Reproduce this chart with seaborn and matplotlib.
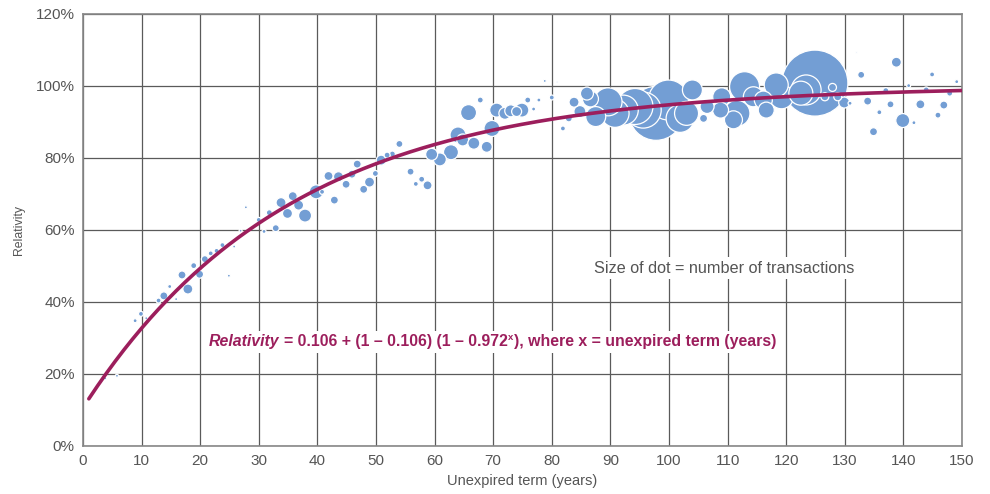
import numpy as np
import pandas as pd
import matplotlib
matplotlib.use("Agg")
import matplotlib.pyplot as plt
import seaborn as sns

# unexpired term (years), relativity (%), number of transactions (dot size)
term = [3.8, 5.8, 8.9, 9.9, 10.8, 12.9, 13.8, 14.8, 15.9, 16.9, 17.9, 18.9, 19.9, 20.8, 21.8,
        22.8, 23.8, 24.9, 25.8, 26.9, 27.8, 30.0, 30.9, 31.8, 32.9, 33.8, 34.9, 35.8, 36.8, 37.9,
        39.8, 40.8, 41.9, 42.9, 43.6, 44.9, 45.9, 46.8, 47.9, 48.9, 49.9, 50.9, 51.9, 52.8, 54.0,
        55.9, 56.8, 57.8, 58.8, 59.5, 60.9, 62.8, 64.0, 64.8, 65.8, 66.7, 67.8, 68.9, 69.8, 70.6,
        72.0, 73.0, 74.0, 74.9, 75.9, 76.9, 77.8, 78.8, 80.0, 80.9, 81.9, 82.9, 83.8, 84.8, 86.0,
        86.6, 87.5, 89.6, 90.8, 92.2, 94.2, 95.6, 97.8, 99.9, 101.9, 103.0, 104.0, 105.9, 106.5, 109.0,
        108.8, 111.6, 111.0, 112.9, 114.4, 116.1, 116.6, 118.3, 119.2, 124.9, 123.4, 122.5, 126.6, 127.9, 128.8,
        129.9, 130.9, 132.0, 132.8, 133.9, 134.9, 135.9, 137.0, 137.8, 138.8, 139.9, 140.9, 141.8, 142.9, 143.9,
        144.9, 145.9, 146.9, 147.9, 149.1]
relativity = [18.8, 19.5, 34.8, 36.7, 35.5, 40.4, 41.7, 44.3, 40.8, 47.5, 43.6, 50.1, 47.7, 51.9, 53.5,
              54.2, 55.8, 47.3, 55.4, 59.8, 66.3, 62.8, 59.6, 64.8, 60.5, 67.6, 64.6, 69.4, 66.9, 64.0,
              70.6, 70.6, 75.0, 68.3, 74.8, 72.7, 75.5, 78.3, 71.3, 73.3, 75.7, 79.4, 80.8, 81.1, 83.9,
              76.2, 72.8, 74.1, 72.4, 81.0, 79.6, 81.6, 86.4, 85.0, 92.6, 84.1, 96.1, 83.1, 88.2, 93.3,
              92.4, 93.1, 92.9, 93.3, 96.1, 93.6, 96.1, 101.4, 96.8, 101.1, 88.2, 91.0, 95.5, 92.9, 97.9,
              96.4, 91.5, 95.6, 92.4, 93.3, 94.3, 93.3, 92.4, 96.1, 91.0, 92.4, 98.9, 91.0, 94.3, 97.0,
              93.3, 92.4, 90.6, 99.8, 97.0, 96.1, 93.3, 100.3, 97.0, 100.8, 98.9, 98.0, 97.0, 99.6, 97.0,
              95.4, 95.2, 109.3, 103.1, 95.8, 87.3, 92.7, 98.7, 94.9, 106.6, 90.4, 100.1, 89.8, 94.9, 98.9,
              103.2, 91.9, 94.7, 98.0, 101.2]
transactions = [9, 9, 16, 25, 9, 25, 64, 16, 9, 64, 100, 36, 64, 49, 25,
                25, 25, 9, 9, 9, 9, 25, 16, 36, 49, 100, 100, 81, 100, 169,
                196, 25, 81, 64, 100, 64, 64, 64, 64, 100, 36, 100, 36, 36, 49,
                49, 25, 36, 81, 144, 169, 225, 256, 144, 256, 144, 36, 121, 256, 196,
                144, 144, 100, 196, 36, 16, 16, 9, 25, 4, 25, 49, 100, 144, 169,
                256, 400, 784, 784, 900, 1296, 1296, 2916, 1600, 784, 576, 400, 64, 196, 324,
                256, 676, 324, 900, 400, 324, 256, 576, 576, 4356, 900, 576, 64, 64, 64,
                121, 16, 3, 49, 64, 64, 25, 36, 49, 100, 196, 16, 16, 81, 36,
                25, 36, 64, 36, 16]

# fitted curve: Relativity = a + (1 - a)(1 - b^x)
fit_a = 0.106
fit_b = 0.972
fit_start = 1

df = pd.DataFrame({"term": term, "relativity": relativity, "transactions": transactions})
df = df.sort_values("transactions", ascending=False)

curve_x = np.linspace(fit_start, 150, 300)
curve_y = 100 * (fit_a + (1 - fit_a) * (1 - fit_b ** curve_x))
curve = pd.DataFrame({"term": curve_x, "relativity": curve_y})

sns.set_style("white")
plt.rcParams["font.family"] = ["Liberation Sans", "DejaVu Sans"]

dot_col = "#739ed4"
line_col = "#9c1e5c"
txt_col = "#555555"

fig = plt.figure(figsize=(9.9, 4.94), dpi=100)
ax = fig.add_axes([0.0838, 0.0972, 0.8879, 0.8745])

c = 0.5184  # transactions -> marker area (pt^2)
tmin, tmax = min(transactions), max(transactions)
sns.scatterplot(data=df, x="term", y="relativity", size="transactions",
                sizes=(tmin * c, tmax * c), size_norm=(tmin, tmax),
                color=dot_col, edgecolor="white", linewidth=0.9, alpha=1,
                legend=False, ax=ax, zorder=3)
sns.lineplot(data=curve, x="term", y="relativity", color=line_col, lw=2.6,
             ax=ax, zorder=4, solid_capstyle="round")

ax.set_xlim(0, 150)
ax.set_ylim(0, 120)
ax.set_xticks(range(0, 151, 10))
ax.set_yticks(range(0, 121, 20))
ax.set_yticklabels([f"{v}%" for v in range(0, 121, 20)])
ax.tick_params(length=0, labelsize=11, colors=txt_col, pad=6)
ax.grid(True, color="#5a5a5a", lw=0.9)
ax.set_axisbelow(True)
for s in ax.spines.values():
    s.set_color("#888888")
    s.set_linewidth(1.2)

ax.set_xlabel("Unexpired term (years)", fontsize=10.5, color=txt_col, labelpad=4)
ax.set_ylabel("Relativity", fontsize=8.8, color=txt_col, labelpad=8)

box = dict(facecolor="white", edgecolor="none", pad=2.5)
ax.text(87.2, 49.4, "Size of dot = number of transactions", fontsize=11.7, color=txt_col,
        va="center", ha="left", bbox=box, zorder=5)

fs = 11.4
t1 = ax.text(21.4, 28.9, "Relativity", fontsize=fs, fontweight="bold", style="italic",
             color=line_col, va="center", ha="left", bbox=box, zorder=8)
t2 = ax.annotate("= 0.106 + (1 \u2013 0.106) (1 \u2013 0.972", xy=(1, 0), xycoords=t1,
                 xytext=(3.5, 0), textcoords="offset points",
                 va="bottom", ha="left", fontsize=fs, fontweight="bold", color=line_col,
                 bbox=box, zorder=7)
t3 = ax.annotate("x", xy=(1, 0.5), xycoords=t2, xytext=(0.3, 0), textcoords="offset points",
                 va="bottom", ha="left", fontsize=6.8, fontweight="bold", color=line_col,
                 zorder=9)
t4 = ax.annotate("), where x = unexpired term (years)", xy=(1, 0), xycoords=(t3, t2),
                 xytext=(0.3, 0), textcoords="offset points",
                 va="bottom", ha="left", fontsize=fs, fontweight="bold", color=line_col,
                 bbox=box, zorder=6)

fig.savefig("out.png", dpi=100)
